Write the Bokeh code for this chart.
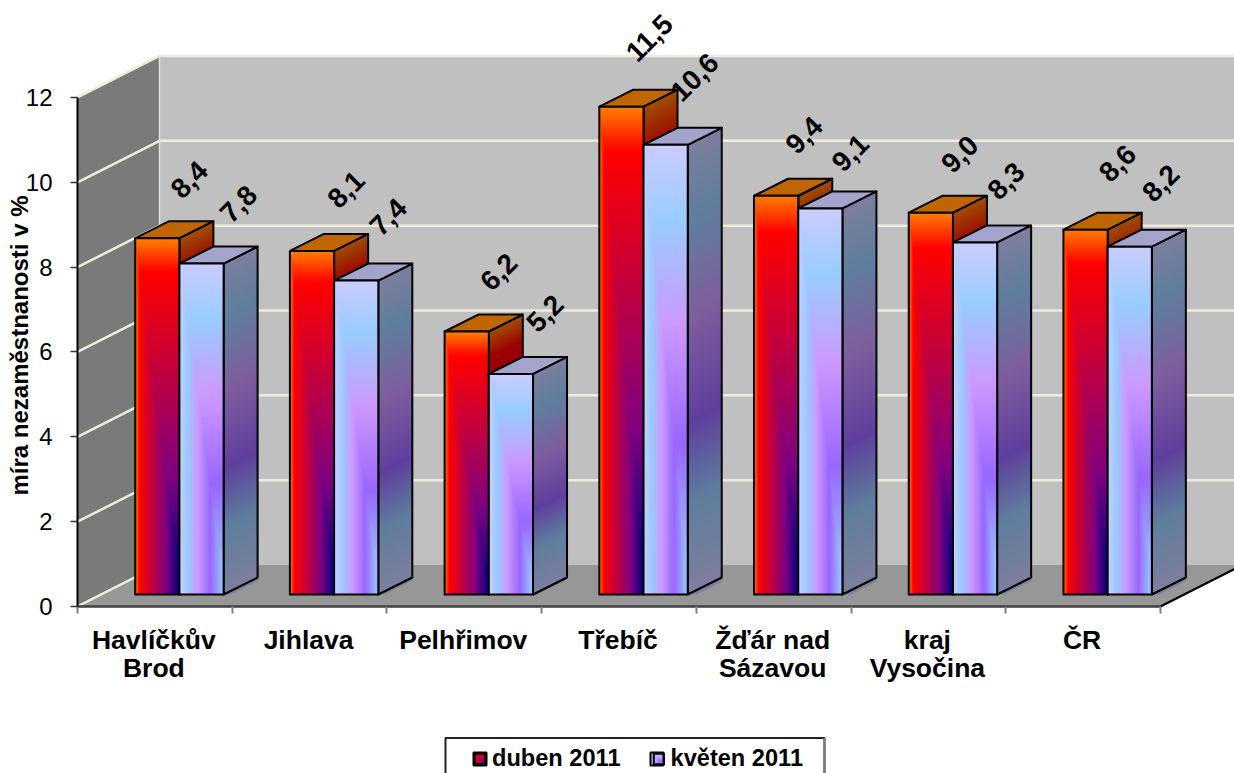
import numpy as np
from bokeh.plotting import figure
from bokeh.models import LinearAxis, FixedTicker, Range1d, Legend, LegendItem
from bokeh.core.properties import value
from bokeh.embed import file_html
from bokeh.resources import INLINE

categories = ["Havlíčkův\nBrod", "Jihlava", "Pelhřimov", "Třebíč", "Žďár nad\nSázavou", "kraj\nVysočina", "ČR"]
duben_2011 = [8.4, 8.1, 6.2, 11.5, 9.4, 9.0, 8.6]
kveten_2011 = [7.8, 7.4, 5.2, 10.6, 9.1, 8.3, 8.2]
y_ticks = [0, 2, 4, 6, 8, 10, 12]
series_names = ["duben 2011", "květen 2011"]
y_title = "míra nezaměstnanosti v %"

W, H = 1234, 773
OX, OY = 77, 606          # page pixel of data origin
SX, SY = 154.71, 42.42    # pixels per data unit
FONT = "Liberation Sans"

# hand placement of the rotated value labels, in pixels from the bar top
nudge_duben = [(15, -51), (17, -54), (15, -52), (11, -61), (11, -53), (12, -51), (15, -59)]
nudge_kveten = [(20, -52), (15, -56), (17, -53), (12, -60), (13, -48), (14, -54), (14, -56)]


def dx(px):
    return px / SX


def dy(px):
    return px / SY


def X(page_x):
    return (page_x - OX) / SX


def Y(page_y):
    return (OY - page_y) / SY


p = figure(width=W, height=H, output_backend="svg", toolbar_location=None,
           x_range=Range1d(X(0), X(W)), y_range=Range1d(Y(H), Y(0)),
           x_axis_type=None, y_axis_type=None, min_border=0,
           outline_line_color=None, background_fill_color="white")

# ---- walls
WD_X, WD_Y = dx(82), dy(41.5)
n = len(categories)
ymax = max(y_ticks)
wall_right = n + WD_X
p.patch([0, WD_X, WD_X, 0], [0, WD_Y, ymax + WD_Y, ymax], fill_color="#7a7a7a", line_color=None)
p.patch([WD_X, wall_right, wall_right, WD_X], [WD_Y, WD_Y, ymax + WD_Y, ymax + WD_Y],
        fill_color="#c0c0c0", line_color=None)
GRID = "#eeece1"
gy = y_ticks
p.segment([WD_X] * len(gy[1:]), [v + WD_Y for v in gy[1:]], [wall_right] * len(gy[1:]), [v + WD_Y for v in gy[1:]],
          line_color=GRID, line_width=2.5)
p.segment([0] * len(gy), gy, [WD_X] * len(gy), [v + WD_Y for v in gy], line_color=GRID, line_width=2.5)
p.segment([WD_X], [WD_Y], [WD_X], [ymax + WD_Y], line_color="#e0e0d8", line_width=1.5)
p.patch([0, WD_X, wall_right, n], [0, WD_Y, WD_Y, 0], fill_color="#979797", line_color=None)
p.segment([0], [0], [WD_X], [WD_Y], line_color=GRID, line_width=2.5)
p.segment([n], [0], [wall_right], [WD_Y], line_color="black", line_width=2.2)

# ---- bar gradients
ORANGE, RED, PURPLE, NAVY = (255, 130, 0), (255, 0, 0), (128, 0, 128), (0, 0, 128)
PALE, SKY, LAV, VIOLET = (204, 204, 255), (153, 204, 255), (204, 153, 255), (153, 102, 255)
RED_STOPS = ([0, .3, .9, 1], [NAVY, PURPLE, RED, ORANGE])
LIGHT_STOPS = ([0, .3, .58, .82, 1], [SKY, VIOLET, LAV, SKY, PALE])
RED_SIDE_STOPS = ([0, .3, .9, 1], [NAVY, PURPLE, RED, ORANGE])
LIGHT_SIDE_STOPS = ([0, .2, .38, .62, .83, 1], [PALE, SKY, VIOLET, LAV, SKY, PALE])


def colour(stops, d, factor=1.0):
    pos, cols = stops
    cols = np.array(cols, dtype=float)
    return np.stack([np.interp(d, pos, cols[:, i]) * factor for i in range(3)], axis=-1)


def pack(rgb, alpha=None):
    h, w = rgb.shape[:2]
    out = np.zeros((h, w), dtype=np.uint32)
    view = out.view(dtype=np.uint8).reshape((h, w, 4))
    view[..., :3] = np.clip(rgb + .5, 0, 255).astype(np.uint8)
    view[..., 3] = 255 if alpha is None else alpha
    return out[::-1]


def front_image(stops, w, h):
    u = (np.arange(w) + .5) / w
    v = (np.arange(h) + .5) / h
    d = np.maximum(1 - u[None, :], 1 - v[:, None] / .95)
    return pack(colour(stops, np.clip(d, 0, 1)))


def side_image(stops, w, rise, h):
    xs = (np.arange(w) + .5)[None, :]
    ys = (np.arange(h + rise) + .5)[:, None]
    top = rise * (1 - xs / w)
    v = (ys - top) / h
    alpha = np.where((v >= -.01) & (v <= 1.01), 255, 0).astype(np.uint8)
    return pack(colour(stops, np.clip(1 - v, 0, 1), .62), alpha)


# ---- bars
BAR_W = 44.2
DEPTH_X, DEPTH_Y = 34, 17
BASE = dy(12)
START = 57.7


def draw_series(values, slot, front_stops, side_stops, top_colour, nudges):
    left = [i + dx(START + slot * BAR_W) for i in range(n)]
    right = [x + dx(BAR_W) for x in left]
    tops = [BASE + v for v in values]
    bw, ddx, ddy = dx(BAR_W), dx(DEPTH_X), dy(DEPTH_Y)
    heights = [v * SY for v in values]
    side_imgs = [side_image(side_stops, DEPTH_X, DEPTH_Y, int(round(h))) for h in heights]
    p.image_rgba(image=side_imgs, x=right, y=[BASE] * n, dw=[ddx] * n,
                 dh=[v + ddy for v in values])
    p.patches([[r, r + ddx, r + ddx, r] for r in right],
              [[BASE, BASE + ddy, t + ddy, t] for t in tops],
              fill_alpha=0, line_color="black", line_width=2, line_join="round")
    p.patches([[l, l + ddx, r + ddx, r] for l, r in zip(left, right)],
              [[t, t + ddy, t + ddy, t] for t in tops],
              fill_color=top_colour, line_color="black", line_width=2, line_join="round")
    front_imgs = [front_image(front_stops, int(BAR_W), int(round(h))) for h in heights]
    p.image_rgba(image=front_imgs, x=left, y=[BASE] * n, dw=[bw] * n, dh=list(values))
    r = p.quad(left=left, right=right, bottom=[BASE] * n, top=tops, fill_alpha=0,
               line_color="black", line_width=2, line_join="round")
    p.text(x=[x + (bw + ddx) / 2 for x in left], y=[t + ddy / 2 for t in tops],
           text=[f"{v:.1f}".replace(".", ",") for v in values],
           x_offset=[a for a, _ in nudges], y_offset=[b + 1 for _, b in nudges],
           angle=45, angle_units="deg",
           text_font=value(FONT), text_font_style="bold", text_font_size="28px",
           text_align="center", text_baseline="middle", text_color="black")
    return r


r_duben = draw_series(duben_2011, 0, RED_STOPS, RED_SIDE_STOPS, "#c06600", nudge_duben)
r_kveten = draw_series(kveten_2011, 1, LIGHT_STOPS, LIGHT_SIDE_STOPS, "#a3a3cc", nudge_kveten)

# ---- axes
y_axis = LinearAxis(fixed_location=0, bounds=(0, ymax), ticker=FixedTicker(ticks=y_ticks),
                    axis_line_color="black", axis_line_width=2,
                    major_tick_line_color="#333333", major_tick_line_width=1.5,
                    major_tick_in=0, major_tick_out=7, minor_tick_line_color=None,
                    major_label_standoff=18, major_label_text_font=FONT,
                    major_label_text_font_size="24px", major_label_text_color="black")
p.add_layout(y_axis, "left")

centres = [i + .5 - dx(1) for i in range(n)]
x_axis = LinearAxis(fixed_location=0, bounds=(0, n),
                    ticker=FixedTicker(ticks=centres, minor_ticks=list(range(n + 1))),
                    axis_line_color="#404040", axis_line_width=2.5,
                    major_tick_line_color=None, major_tick_out=0, major_tick_in=0,
                    minor_tick_line_color="#808080", minor_tick_line_width=2,
                    minor_tick_in=0, minor_tick_out=7,
                    major_label_overrides={c: t for c, t in zip(centres, categories)},
                    major_label_standoff=11, major_label_text_font=FONT,
                    major_label_text_font_style="bold", major_label_text_font_size="26.5px",
                    major_label_text_color="black", major_label_text_line_height=0.96)
p.add_layout(x_axis, "below")

p.text(x=[X(19)], y=[Y(345)], text=[y_title], angle=90, angle_units="deg",
       text_font=value(FONT), text_font_style="bold", text_font_size="24px",
       text_align="center", text_baseline="middle", text_color="black")

# ---- legend
box_l, box_r, box_t, box_b = X(445), X(824), Y(737.5), Y(790)
p.quad(left=[box_l], right=[box_r], top=[box_t], bottom=[box_b], fill_color="white", line_color="#222222", line_width=2)
p.segment([box_r], [box_t], [box_r], [box_b], line_color="#808080", line_width=2)

legend = Legend(items=[LegendItem(label=series_names[0], renderers=[r_duben]),
                       LegendItem(label=series_names[1], renderers=[r_kveten])],
                orientation="horizontal", location=(473, 1),
                padding=0, margin=0, spacing=31, label_standoff=6,
                glyph_width=13, glyph_height=13, background_fill_alpha=0, border_line_color=None,
                label_text_font=FONT, label_text_font_style="bold", label_text_font_size="23.6px",
                label_text_color="black", label_text_baseline="middle")
p.add_layout(legend, "center")

sw_x = [X(473), X(650)]
sw_y = [Y(765)] * 2
sw_imgs = [front_image(RED_STOPS, 13, 13), front_image(LIGHT_STOPS, 13, 13)]
img = p.image_rgba(image=sw_imgs, x=sw_x, y=sw_y, dw=[dx(13)] * 2, dh=[dy(13)] * 2)
img.level = "overlay"
sq = p.quad(left=sw_x, right=[x + dx(13) for x in sw_x], bottom=sw_y, top=[y + dy(13) for y in sw_y],
            fill_alpha=0, line_color="black", line_width=2)
sq.level = "overlay"

open("out.html", "w").write(file_html(p, INLINE))
